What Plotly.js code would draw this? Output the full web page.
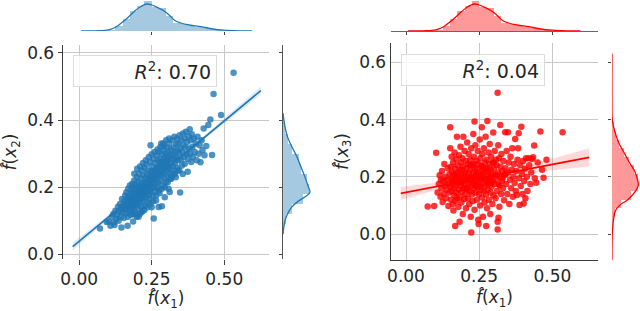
<!DOCTYPE html>
<html><head><meta charset="utf-8">
<script src="https://cdn.plot.ly/plotly-3.0.1.min.js"></script>
<style>html,body{margin:0;padding:0;background:#fff}#chart{width:640px;height:311px}</style>
</head><body><div id="chart"></div>
<script>
// ---------- data ----------
const xTickVals = [0, 0.25, 0.5];
const xTickText = ['0.00', '0.25', '0.50'];
const yTickVals = [0, 0.2, 0.4, 0.6];
const yTickText = ['0.0', '0.2', '0.4', '0.6'];
const r2Left = '0.70';
const r2Right = '0.04';

// left panel: (f(x1), f(x2))
const pointsLeft = [
[0.072,0.077],[0.095,0.096],[0.102,0.098],[0.108,0.085],[0.113,0.112],[0.118,0.120],[0.119,0.095],
[0.122,0.087],[0.125,0.130],[0.128,0.105],[0.131,0.118],[0.134,0.142],[0.136,0.100],[0.139,0.128],
[0.141,0.150],[0.143,0.112],[0.145,0.135],[0.146,0.080],[0.148,0.165],[0.150,0.125],[0.152,0.145],[0.154,0.108],[0.156,0.158],[0.158,0.135],[0.159,0.175],
[0.161,0.122],[0.162,0.150],[0.163,0.185],[0.164,0.138],[0.166,0.165],[0.167,0.085],[0.168,0.112],[0.169,0.195],[0.170,0.145],[0.171,0.172],[0.172,0.128],[0.174,0.158],[0.175,0.205],[0.176,0.140],[0.177,0.182],[0.178,0.118],[0.179,0.165],[0.179,0.150],
[0.181,0.190],[0.181,0.132],[0.182,0.155],[0.183,0.210],[0.184,0.172],[0.185,0.145],[0.186,0.098],[0.186,0.200],[0.187,0.162],[0.188,0.138],[0.189,0.182],[0.190,0.220],[0.191,0.152],[0.192,0.195],[0.193,0.125],[0.194,0.170],[0.195,0.208],[0.196,0.145],[0.197,0.185],[0.198,0.160],[0.199,0.230],[0.199,0.112],
[0.201,0.175],[0.202,0.198],[0.203,0.150],[0.204,0.215],[0.205,0.135],[0.205,0.185],[0.206,0.240],[0.207,0.165],[0.208,0.205],[0.209,0.120],[0.210,0.190],[0.211,0.155],[0.212,0.225],[0.213,0.178],[0.214,0.200],[0.215,0.142],[0.216,0.250],[0.217,0.168],[0.218,0.212],[0.219,0.188],[0.219,0.130],
[0.221,0.235],[0.222,0.160],[0.223,0.198],[0.224,0.178],[0.225,0.258],[0.226,0.215],[0.227,0.145],[0.228,0.192],[0.229,0.228],[0.230,0.170],[0.231,0.205],[0.232,0.268],[0.233,0.185],[0.234,0.240],[0.235,0.155],[0.236,0.220],[0.237,0.198],[0.238,0.250],[0.239,0.175],[0.239,0.212],
[0.241,0.190],[0.242,0.232],[0.243,0.165],[0.244,0.275],[0.245,0.210],[0.246,0.325],[0.247,0.185],[0.248,0.248],[0.249,0.222],[0.250,0.140],[0.251,0.198],[0.252,0.262],[0.253,0.238],[0.254,0.175],[0.255,0.215],[0.256,0.285],[0.257,0.107],[0.258,0.200],[0.259,0.250],
[0.261,0.225],[0.262,0.188],[0.263,0.272],[0.264,0.240],[0.265,0.160],[0.266,0.210],[0.267,0.295],[0.268,0.258],[0.269,0.230],[0.270,0.198],[0.271,0.280],[0.272,0.245],[0.273,0.215],[0.274,0.141],[0.275,0.305],[0.276,0.265],[0.277,0.182],[0.278,0.235],[0.279,0.285],
[0.281,0.250],[0.282,0.220],[0.283,0.330],[0.284,0.275],[0.285,0.143],[0.286,0.298],[0.287,0.238],[0.288,0.205],[0.289,0.265],[0.290,0.312],[0.291,0.245],[0.292,0.323],[0.293,0.285],[0.294,0.228],[0.295,0.170],[0.296,0.258],[0.297,0.300],[0.298,0.272],[0.299,0.215],
[0.301,0.290],[0.302,0.248],[0.303,0.318],[0.304,0.268],[0.305,0.232],[0.306,0.305],[0.307,0.280],[0.308,0.195],[0.309,0.258],[0.310,0.330],[0.311,0.242],[0.312,0.186],[0.313,0.295],[0.314,0.270],[0.316,0.312],[0.317,0.225],[0.318,0.285],[0.319,0.252],
[0.321,0.340],[0.322,0.298],[0.323,0.262],[0.325,0.318],[0.326,0.240],[0.327,0.285],[0.328,0.350],[0.330,0.272],[0.331,0.305],[0.333,0.230],[0.334,0.328],[0.335,0.290],[0.337,0.258],[0.338,0.345],[0.339,0.310],
[0.341,0.280],[0.342,0.330],[0.344,0.300],[0.345,0.250],[0.346,0.355],[0.348,0.184],[0.349,0.315],[0.350,0.282],[0.352,0.340],[0.354,0.265],[0.355,0.305],[0.357,0.239],[0.358,0.360],[0.359,0.325],
[0.361,0.290],[0.363,0.345],[0.364,0.270],[0.366,0.318],[0.368,0.365],[0.370,0.300],[0.372,0.335],[0.374,0.246],[0.375,0.285],[0.377,0.352],[0.379,0.315],
[0.381,0.373],[0.382,0.300],[0.384,0.340],[0.386,0.275],[0.388,0.358],[0.390,0.320],[0.392,0.290],[0.395,0.345],[0.398,0.305],
[0.402,0.330],[0.405,0.280],[0.408,0.350],[0.412,0.300],[0.415,0.325],[0.418,0.274],[0.422,0.340],[0.425,0.310],[0.429,0.375],[0.432,0.295],[0.438,0.323],[0.445,0.385],[0.452,0.402],[0.458,0.296],[0.463,0.478],[0.489,0.415],[0.532,0.541],
[0.185,0.120],[0.190,0.240],[0.195,0.118],[0.200,0.255],[0.205,0.112],[0.210,0.262],[0.215,0.125],[0.220,0.272],[0.225,0.132],[0.230,0.280],[0.235,0.140],[0.240,0.290],[0.245,0.150],[0.250,0.298],[0.255,0.158],
[0.260,0.305],[0.265,0.175],[0.270,0.312],[0.275,0.190],[0.280,0.320],[0.285,0.195],[0.290,0.330],[0.295,0.200],[0.300,0.340],[0.305,0.215],[0.310,0.345],[0.315,0.225],[0.320,0.232],[0.330,0.240],[0.340,0.250],
[0.212,0.185],[0.222,0.205],[0.232,0.215],[0.242,0.225],[0.252,0.232],[0.262,0.248],[0.272,0.258],[0.282,0.268],[0.292,0.275],[0.302,0.280],
[0.206,0.168],[0.216,0.178],[0.226,0.188],[0.236,0.200],[0.246,0.205],[0.256,0.222],[0.266,0.238],[0.276,0.245],[0.286,0.255],[0.296,0.262]
];

// right panel: (f(x1), f(x3))
const pointsRight = [
[0.074,0.096],[0.096,0.098],[0.103,0.284],[0.108,0.145],[0.112,0.175],[0.115,0.205],[0.118,0.130],[0.119,0.190],
[0.121,0.160],[0.123,0.220],[0.125,0.112],[0.127,0.185],[0.129,0.140],[0.131,0.245],[0.133,0.170],[0.135,0.200],[0.137,0.125],[0.139,0.155],[0.141,0.190],[0.143,0.230],[0.145,0.098],[0.146,0.175],[0.148,0.145],[0.149,0.210],
[0.151,0.373],[0.151,0.300],[0.152,0.165],[0.153,0.235],[0.154,0.120],[0.155,0.195],[0.156,0.270],[0.157,0.150],[0.158,0.215],[0.159,0.180],[0.160,0.105],[0.161,0.250],[0.162,0.082],[0.163,0.160],[0.164,0.205],[0.165,0.135],[0.166,0.285],[0.167,0.188],[0.168,0.028],[0.168,0.228],[0.169,0.115],[0.170,0.170],[0.171,0.262],[0.172,0.145],[0.173,0.198],[0.174,0.340],[0.175,0.125],[0.176,0.240],[0.177,0.178],[0.178,0.215],[0.179,0.095],
[0.180,0.155],[0.181,0.275],[0.182,0.190],[0.183,0.043],[0.184,0.225],[0.185,0.130],[0.186,0.305],[0.187,0.170],[0.188,0.250],[0.189,0.110],[0.190,0.205],[0.191,0.148],[0.192,0.185],[0.193,0.265],[0.194,0.070],[0.195,0.235],[0.196,0.340],[0.197,0.160],[0.198,0.198],[0.199,0.122],[0.200,0.290],[0.201,0.175],[0.202,0.215],[0.203,0.140],[0.204,0.255],[0.205,0.090],[0.206,0.188],[0.207,0.230],[0.208,0.158],[0.209,0.320],[0.210,0.200],
[0.211,0.125],[0.212,0.245],[0.213,0.172],[0.214,0.280],[0.215,0.210],[0.216,0.105],[0.217,0.190],[0.218,0.148],[0.219,0.260],[0.220,0.225],[0.221,0.060],[0.222,0.168],[0.223,0.005],[0.223,0.300],[0.224,0.195],[0.225,0.138],[0.226,0.240],[0.227,0.180],[0.228,0.115],[0.229,0.215],[0.230,0.350],[0.231,0.158],[0.232,0.270],[0.233,0.200],[0.234,0.393],[0.234,0.085],[0.235,0.230],[0.236,0.175],[0.237,0.310],[0.238,0.145],[0.239,0.205],
[0.240,0.255],[0.241,0.185],[0.242,0.120],[0.243,0.228],[0.244,0.165],[0.245,0.290],[0.246,0.200],[0.247,0.050],[0.248,0.035],[0.248,0.245],[0.249,0.140],[0.250,0.215],[0.251,0.178],[0.252,0.330],[0.253,0.100],[0.254,0.265],[0.255,0.192],[0.256,0.155],[0.257,0.238],[0.258,0.210],[0.259,0.373],[0.260,0.128],[0.261,0.280],[0.262,0.175],[0.263,0.060],[0.264,0.225],[0.265,0.150],[0.266,0.300],[0.267,0.195],[0.268,0.110],[0.269,0.250],
[0.270,0.168],[0.271,0.215],[0.272,0.340],[0.273,0.138],[0.274,0.028],[0.275,0.260],[0.276,0.188],[0.277,0.090],[0.278,0.395],[0.278,0.232],[0.279,0.155],[0.280,0.205],[0.282,0.285],[0.283,0.120],[0.284,0.178],[0.285,0.245],[0.286,0.315],[0.287,0.198],[0.288,0.070],[0.289,0.145],[0.290,0.225],[0.291,0.270],[0.292,0.165],[0.294,0.210],[0.295,0.105],[0.296,0.250],[0.297,0.185],[0.298,0.355],[0.299,0.135],
[0.300,0.230],[0.302,0.175],[0.303,0.290],[0.304,0.208],[0.306,0.125],[0.307,0.260],[0.308,0.190],[0.310,0.240],[0.311,0.150],[0.313,0.494],[0.313,0.016],[0.313,0.043],[0.314,0.215],[0.315,0.310],[0.316,0.057],[0.317,0.172],[0.318,0.265],[0.319,0.095],[0.320,0.200],[0.322,0.381],[0.323,0.235],[0.325,0.140],[0.326,0.280],[0.328,0.185],[0.329,0.220],
[0.331,0.160],[0.333,0.255],[0.335,0.118],[0.337,0.205],[0.339,0.356],[0.340,0.230],[0.342,0.175],[0.344,0.290],[0.346,0.140],[0.348,0.356],[0.349,0.215],[0.351,0.250],[0.353,0.105],[0.355,0.190],[0.357,0.270],[0.359,0.160],[0.361,0.225],[0.363,0.300],[0.365,0.130],[0.367,0.200],[0.369,0.245],
[0.371,0.178],[0.373,0.332],[0.375,0.150],[0.377,0.220],[0.379,0.136],[0.381,0.260],[0.383,0.300],[0.385,0.352],[0.386,0.195],[0.388,0.101],[0.390,0.240],[0.392,0.168],[0.394,0.375],[0.396,0.210],[0.398,0.140],[0.400,0.255],[0.402,0.107],[0.404,0.185],[0.406,0.228],[0.408,0.125],[0.410,0.265],[0.413,0.200],[0.415,0.150],[0.419,0.265],
[0.421,0.240],[0.425,0.175],[0.428,0.215],[0.431,0.262],[0.434,0.268],[0.438,0.309],[0.440,0.195],[0.445,0.179],[0.450,0.250],[0.459,0.358],[0.465,0.225],[0.470,0.197],[0.480,0.260],[0.535,0.356],
[0.180,0.200],[0.190,0.180],[0.200,0.210],[0.210,0.190],[0.220,0.200],[0.230,0.185],[0.240,0.210],[0.250,0.195],[0.260,0.205],[0.270,0.190],[0.280,0.220],[0.290,0.200],[0.200,0.160],[0.220,0.240],[0.240,0.170],
[0.260,0.235],[0.280,0.175],[0.300,0.250],[0.190,0.225],[0.210,0.155],[0.230,0.245],[0.250,0.165],[0.270,0.230],[0.290,0.180],[0.310,0.205],[0.170,0.210],[0.160,0.190],[0.330,0.195],[0.320,0.170],[0.340,0.210]
];

// regression fits (x, fit, lower CI, upper CI)
const fitLeftX  = [-0.022, 0.10, 0.25, 0.40, 0.626];
const fitLeftY  = [0.023, 0.110, 0.218, 0.326, 0.488];
const fitLeftLo = [0.011, 0.104, 0.215, 0.321, 0.476];
const fitLeftHi = [0.035, 0.116, 0.221, 0.331, 0.500];
const fitRightX  = [-0.018, 0.10, 0.20, 0.25, 0.30, 0.40, 0.50, 0.626];
const fitRightY  = [0.142, 0.165, 0.185, 0.195, 0.204, 0.224, 0.243, 0.268];
const fitRightLo = [0.120, 0.152, 0.179, 0.190, 0.198, 0.211, 0.223, 0.236];
const fitRightHi = [0.164, 0.178, 0.191, 0.200, 0.210, 0.237, 0.263, 0.300];

// marginal histogram of f(x1) (bin centres, heights) and its KDE
const histX1Centers = [0.0875,0.1125,0.1375,0.1625,0.1875,0.2125,0.2375,0.2625,0.2875,0.3125,0.3375,0.3625,0.3875,0.4125,0.4375,0.4625,0.4875,0.5125,0.5375];
const histX1Heights = [0.3,1.5,5,12,20,25,30,24,23,15,8,7,5.5,4.5,3,2,1,0.5,0.5];
const histX1Width = 0.025;
const kdeX1At  = [0.007,0.06,0.09,0.11,0.13,0.15,0.17,0.19,0.21,0.233,0.25,0.27,0.29,0.31,0.33,0.35,0.38,0.42,0.46,0.50,0.55,0.596];
const kdeX1Val = [0,0.2,0.6,1.8,4.5,9,14,19.5,24,27,26,23.5,20.5,16,10.5,8,6,4.3,2,0.8,0.2,0];

// marginal of f(x2)
const histX2Centers = [0.075,0.105,0.135,0.165,0.195,0.225,0.255,0.285,0.315,0.345,0.375,0.405,0.435];
const histX2Heights = [1,3,9,20,26,24,18,16,9,5,2,0.8,0.3];
const histX2Width = 0.03;
const kdeX2At  = [0.06,0.08,0.10,0.12,0.14,0.16,0.175,0.185,0.20,0.23,0.26,0.29,0.32,0.35,0.38,0.42];
const kdeX2Val = [0,0.8,2,4.5,8.5,16,24,27,25.5,22,18,14,9,4.5,2,0];

// marginal of f(x3)
const histX3Centers = [0.015,0.045,0.075,0.105,0.135,0.165,0.195,0.225,0.255,0.285,0.315,0.345,0.375,0.405,0.495];
const histX3Heights = [0.7,1.5,3.5,9,19,26,26,22,17,12,7,4,2,0.3,0.3];
const histX3Width = 0.03;
const kdeX3At  = [-0.09,-0.05,0.0,0.02,0.05,0.08,0.10,0.12,0.15,0.17,0.19,0.22,0.25,0.28,0.32,0.36,0.40,0.45,0.63];
const kdeX3Val = [0,0,0.3,0.7,1.5,3.3,7.7,16,24,26.7,26,23,17.7,13,6.7,2.7,0.3,0,0];

// ---------- drawing ----------
const W = 640, H = 311;
const fx = p => p / W, fy = p => 1 - p / H;
const BLUE = '#1f77b4', RED = '#ff0000';
const BLUE_A = 'rgba(31,119,180,0.4)', RED_A = 'rgba(255,0,0,0.4)';
const FONT = 'DejaVu Sans';
const TXT = '#262626';
const title = n => '<i>f\u0302</i>(<i>x</i><sub>' + n + '</sub>)';

function panelTraces(pts, fx_, fy_, fLo, fHi, color, colA, bandCol, hx, hy, hw, kx, ky, hy2, hh2, hw2, ky2, kv2, ax) {
  const [xa, ya, xt, yt, xr, yr] = ax;
  return [
    {type:'scatter', mode:'markers', x: pts.map(p=>p[0]), y: pts.map(p=>p[1]), xaxis:xa, yaxis:ya,
     marker:{size:6.5, color:color, opacity:0.8, line:{width:0}}, hoverinfo:'skip'},
    {type:'scatter', mode:'lines', x: fx_.concat(fx_.slice().reverse()), y: fHi.concat(fLo.slice().reverse()),
     fill:'toself', fillcolor:bandCol, line:{width:0}, xaxis:xa, yaxis:ya, hoverinfo:'skip'},
    {type:'scatter', mode:'lines', x: fx_, y: fy_, line:{color:color, width:1.6}, xaxis:xa, yaxis:ya, hoverinfo:'skip'},
    {type:'bar', x: hx, y: hy, width: hw, marker:{color:colA, line:{width:0}}, xaxis:xt, yaxis:yt, hoverinfo:'skip'},
    {type:'scatter', mode:'lines', x: kx, y: ky, line:{color:color, width:1.3, shape:'spline'}, xaxis:xt, yaxis:yt, hoverinfo:'skip'},
    {type:'bar', orientation:'h', y: hy2, x: hh2, width: hw2, marker:{color:colA, line:{width:0}}, xaxis:xr, yaxis:yr, hoverinfo:'skip'},
    {type:'scatter', mode:'lines', y: ky2, x: kv2, line:{color:color, width:1.3, shape:'spline'}, xaxis:xr, yaxis:yr, hoverinfo:'skip'}
  ];
}

const data = []
 .concat(panelTraces(pointsLeft, fitLeftX, fitLeftY, fitLeftLo, fitLeftHi, BLUE, BLUE_A, 'rgba(31,119,180,0.15)',
   histX1Centers, histX1Heights, histX1Width, kdeX1At, kdeX1Val,
   histX2Centers, histX2Heights, histX2Width, kdeX2At, kdeX2Val, ['x','y','x2','y2','x3','y3']))
 .concat(panelTraces(pointsRight, fitRightX, fitRightY, fitRightLo, fitRightHi, RED, RED_A, 'rgba(255,0,0,0.15)',
   histX1Centers, histX1Heights, histX1Width, kdeX1At, kdeX1Val,
   histX3Centers, histX3Heights, histX3Width, kdeX3At, kdeX3Val, ['x4','y4','x5','y5','x6','y6']));

const tickFont = {family: FONT, size: 17, color: TXT};
const titleFont = {family: FONT, size: 17, color: TXT};
const gridCol = '#c8c8c8';
const L = {x0: 63, x1: 269, y0: 45, y1: 259, xr: [-0.0554, 0.654], yr: [-0.014, 0.6238]};
const R = {x0: 391, x1: 598, y0: 43, y1: 260, xr: [-0.0513, 0.656], yr: [-0.0909, 0.6678]};

const layout = {
  width: W, height: H, margin: {l:0, r:0, t:0, b:0, pad:0},
  paper_bgcolor: '#fff', plot_bgcolor: 'rgba(0,0,0,0)', showlegend: false, bargap: 0,
  font: {family: FONT, size: 17, color: TXT},
  // left main
  xaxis: {domain:[fx(L.x0), fx(L.x1)], range:L.xr, anchor:'y', tickvals:xTickVals, ticktext:xTickText,
    showgrid:true, gridcolor:gridCol, gridwidth:1, zeroline:false, showline:false,
    ticks:'outside', ticklen:5, tickcolor:'#444', tickfont:tickFont,
    title:{text:title(1), font:titleFont, standoff:9}},
  yaxis: {domain:[fy(L.y1), fy(L.y0)], range:L.yr, anchor:'x', tickvals:yTickVals, ticktext:yTickText,
    showgrid:true, gridcolor:gridCol, gridwidth:1, zeroline:false, showline:true, linecolor:'#3a3a3a', linewidth:1.4,
    ticks:'outside', ticklen:4, tickcolor:'#444', tickfont:tickFont,
    title:{text:title(2), font:titleFont, standoff:6}},
  // left top marginal
  xaxis2: {domain:[fx(L.x0), fx(L.x1)], range:L.xr, anchor:'y2', tickvals:xTickVals.slice(1), showticklabels:false,
    showgrid:false, zeroline:false, showline:false, ticks:'outside', ticklen:3, tickcolor:'#444'},
  yaxis2: {domain:[fy(31), 1], range:[0, 31], anchor:'x2', visible:false},
  // left right marginal
  xaxis3: {domain:[fx(283), fx(315)], range:[0, 32], anchor:'y3', visible:false},
  yaxis3: {domain:[fy(L.y1), fy(L.y0)], range:L.yr, anchor:'x3', tickvals:yTickVals, showticklabels:false,
    showgrid:false, zeroline:false, showline:true, linecolor:'#555', linewidth:1.4, layer:'below traces',
    ticks:'outside', ticklen:3, tickcolor:'#444'},
  // right main
  xaxis4: {domain:[fx(R.x0), fx(R.x1)], range:R.xr, anchor:'y4', tickvals:xTickVals, ticktext:xTickText,
    showgrid:true, gridcolor:gridCol, gridwidth:1, zeroline:false, showline:true, linecolor:'#3a3a3a', linewidth:1.4,
    ticks:'', tickfont:tickFont,
    title:{text:title(1), font:titleFont, standoff:6}},
  yaxis4: {domain:[fy(R.y1), fy(R.y0)], range:R.yr, anchor:'x4', tickvals:yTickVals, ticktext:yTickText,
    showgrid:true, gridcolor:gridCol, gridwidth:1, zeroline:false, showline:true, linecolor:'#3a3a3a', linewidth:1.4,
    ticks:'', tickfont:tickFont,
    title:{text:title(3), font:titleFont, standoff:6}},
  // right top marginal
  xaxis5: {domain:[fx(R.x0), fx(R.x1)], range:R.xr, anchor:'y5', tickvals:xTickVals, showticklabels:false,
    showgrid:false, zeroline:false, showline:true, linecolor:'#666', linewidth:1.4, layer:'below traces',
    ticks:'outside', ticklen:3, tickcolor:'#444'},
  yaxis5: {domain:[fy(31), 1], range:[0, 31], anchor:'x5', visible:false},
  // right right marginal
  xaxis6: {domain:[fx(612), 1], range:[0, 28.5], anchor:'y6', visible:false},
  yaxis6: {domain:[fy(R.y1), fy(R.y0)], range:R.yr, anchor:'x6', tickvals:yTickVals, showticklabels:false,
    showgrid:false, zeroline:false, showline:false, ticks:'outside', ticklen:3, tickcolor:'#444'},
  annotations: [
    {xref:'paper', yref:'paper', x:fx(144.5), y:fy(71), xanchor:'center', yanchor:'middle',
     text:'<i>R</i><sup>2</sup>: ' + r2Left, showarrow:false, align:'right', width:132, height:20,
     borderpad:5, bordercolor:'#dcdcdc', borderwidth:1, bgcolor:'rgba(255,255,255,0.8)',
     font:{family:FONT, size:19, color:TXT}},
    {xref:'paper', yref:'paper', x:fx(472.5), y:fy(70), xanchor:'center', yanchor:'middle',
     text:'<i>R</i><sup>2</sup>: ' + r2Right, showarrow:false, align:'right', width:132, height:20,
     borderpad:5, bordercolor:'#dcdcdc', borderwidth:1, bgcolor:'rgba(255,255,255,0.8)',
     font:{family:FONT, size:19, color:TXT}}
  ]
};

Plotly.newPlot('chart', data, layout, {staticPlot:true, displayModeBar:false});
</script>
</body></html>
